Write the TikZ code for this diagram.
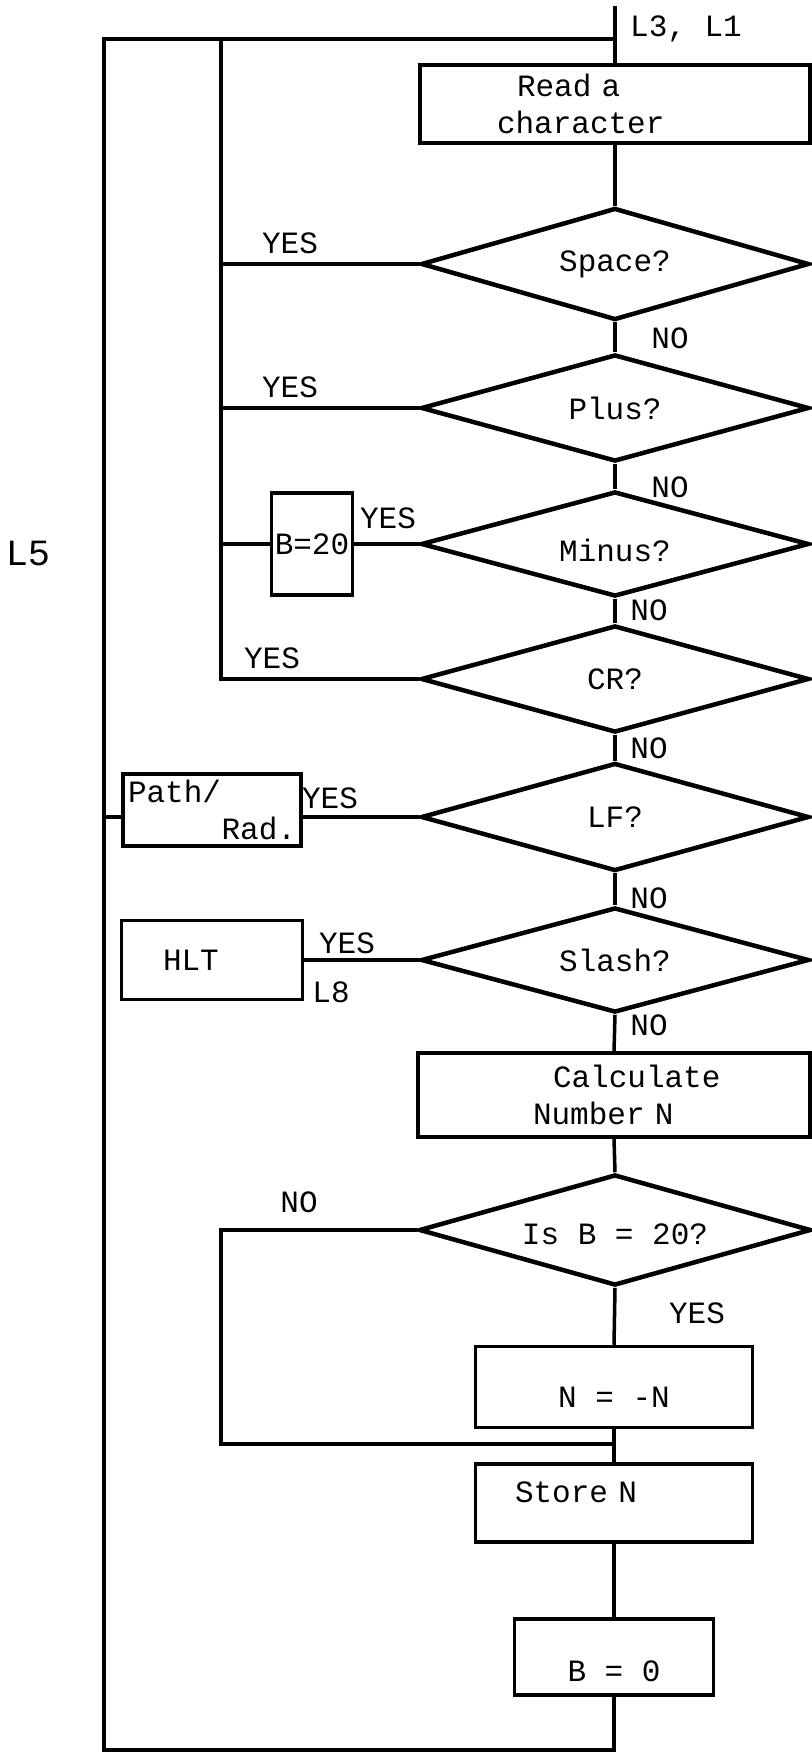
\documentclass[tikz,border=0pt]{standalone}
\usepackage{fontspec}
\setmonofont{Liberation Mono}
\usetikzlibrary{shapes.geometric}
\begin{document}
\begin{tikzpicture}[x=1pt,y=-1pt,
  font=\ttfamily\fontsize{31}{37}\selectfont,
  box/.style={draw, rectangle, line width=3.5pt, inner sep=0pt, align=center},
  dec/.style={draw, diamond, aspect=3.6, line width=4.5pt, inner sep=0pt, minimum width=388pt},
  conn/.style={line width=3.5pt},
  lbl/.style={inner sep=0pt}]
\useasboundingbox (0,0) rectangle (811,1753);

% shapes
\node[box, minimum width=390pt, minimum height=78pt, text width=236pt, align=left] (read) at (615,104) {\hspace*{20pt}Read a\\character};
\node[dec, minimum height=112pt] (space) at (615,264) {Space?};
\node[dec, minimum height=107pt] (plus) at (615,408) {Plus?};
\node[dec, minimum height=105pt, text height=34pt, text depth=0pt] (minus) at (615,544) {Minus?};
\node[dec, minimum height=107pt] (cr) at (615,679) {CR?};
\node[dec, minimum height=108pt] (lf) at (615,817) {LF?};
\node[dec, minimum height=105pt] (slash) at (615,960) {Slash?};
\node[box, minimum width=392pt, minimum height=84pt, text width=162pt, align=left] (calc) at (614,1095) {\hspace*{20pt}\makebox[142pt][l]{Calculate}\\Number N};
\node[dec, minimum width=392pt, minimum height=111pt, text height=28pt, text depth=0pt] (isb) at (615,1230) {Is B = 20?};
\node[box, minimum width=277pt, minimum height=81pt, text height=40pt, text depth=0pt] (nn) at (614,1387) {N = -N};
\node[box, minimum width=277pt, minimum height=78pt, text width=198pt, align=left, text height=18pt, text depth=20pt] (store) at (614,1503) {Store N};
\node[box, minimum width=199pt, minimum height=76pt, text height=48pt, text depth=0pt] (b0) at (614,1657) {B = 0};
\node[box, minimum width=81pt, minimum height=102pt] (b20) at (312,544) {B=20};
\node[box, minimum width=178pt, minimum height=72pt, text width=168pt, align=left] (path) at (212,810) {Path/\\\hfill Rad.};
\node[box, minimum width=181pt, minimum height=79pt, text width=98pt, align=left] (hlt) at (212,960) {HLT};

% junction points
\coordinate (entry) at (615,6);
\coordinate (topj) at (615,39);
\coordinate (outerBL) at (104,1750);
\coordinate (innerT) at (221,39);
\coordinate (loopC) at (221,1444);
\coordinate (join) at (615,1444);

% spine
\draw[conn] (entry) -- (read.north);
\draw[conn] (read.south) -- (space.north);
\draw[conn] (space.south) -- (plus.north);
\draw[conn] (plus.south) -- (minus.north);
\draw[conn] (minus.south) -- (cr.north);
\draw[conn] (cr.south) -- (lf.north);
\draw[conn] (lf.south) -- (slash.north);
\draw[conn] (slash.south) -- (calc.north);
\draw[conn] (calc.south) -- (isb.north);
\draw[conn] (isb.south) -- (nn.north);
\draw[conn] (nn.south) -- (store.north);
\draw[conn] (store.south) -- (b0.north);

% outer loop (L5)
\draw[conn] (b0.south) |- (outerBL) |- (topj);
% inner loop
\draw[conn] (cr.west) -| (innerT);
\draw[conn] (space.west) -- (space.west -| innerT);
\draw[conn] (plus.west) -- (plus.west -| innerT);
\draw[conn] (minus.west) -- (b20.east);
\draw[conn] (b20.west) -- (b20.west -| innerT);
% LF branch
\draw[conn] (lf.west) -- (lf.west -| path.east);
\draw[conn] (path.west |- lf.west) -- (lf.west -| outerBL);
% slash branch
\draw[conn] (slash.west) -- (slash.west -| hlt.east);
% Is B = 20 NO loop
\draw[conn] (isb.west) -| (loopC) -- (join);

% labels
\node[lbl] (tL31) at (686,29) {L3, L1};
\node[lbl, font=\ttfamily\fontsize{37}{40}\selectfont] (tL5) at (28,553) {L5};
\node[lbl] (y1) at (290,243) {YES};
\node[lbl] (n1) at (670,338) {NO};
\node[lbl] (y2) at (290,387) {YES};
\node[lbl] (n2) at (670,487) {NO};
\node[lbl] (y3) at (388,518) {YES};
\node[lbl] (n3) at (649,610) {NO};
\node[lbl] (y4) at (272,658) {YES};
\node[lbl] (n4) at (649,748) {NO};
\node[lbl] (y5) at (330,798) {YES};
\node[lbl] (n5) at (649,898) {NO};
\node[lbl] (y6) at (347,943) {YES};
\node[lbl] (tL8) at (331,992) {L8};
\node[lbl] (n6) at (649,1025) {NO};
\node[lbl] (n7) at (299,1202) {NO};
\node[lbl] (y7) at (697,1313) {YES};
\end{tikzpicture}
\end{document}
